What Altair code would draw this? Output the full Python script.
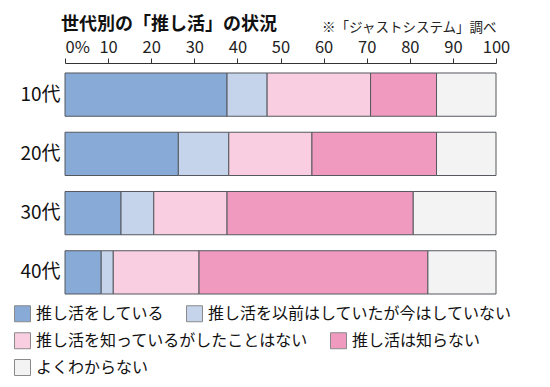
import altair as alt
import pandas as pd

ages = ["10代", "20代", "30代", "40代"]
categories = [
    "推し活をしている",
    "推し活を以前はしていたが今はしていない",
    "推し活を知っているがしたことはない",
    "推し活は知らない",
    "よくわからない",
]
colors = ["#88AAD6", "#C5D4EB", "#F8CEE0", "#F09ABF", "#F3F3F3"]
v_doing = [37.6, 26.3, 13.0, 8.4]
v_before = [9.3, 11.7, 7.6, 2.8]
v_know = [24.0, 19.3, 17.0, 19.9]
v_unknown = [15.3, 28.9, 43.2, 53.1]
v_unsure = [13.8, 13.8, 19.2, 15.8]
ticks = [0, 10, 20, 30, 40, 50, 60, 70, 80, 90, 100]

series = [v_doing, v_before, v_know, v_unknown, v_unsure]
rows = []
for ci, (cat, vals) in enumerate(zip(categories, series)):
    for age, v in zip(ages, vals):
        rows.append({"age": age, "cat": cat, "order": ci, "value": v})
df = pd.DataFrame(rows)

FONT = "Noto Sans CJK JP"

bars = alt.Chart(df).mark_bar(stroke="#55585f", strokeWidth=1).encode(
    x=alt.X(
        "value:Q",
        stack="zero",
        scale=alt.Scale(domain=[0, 100], nice=False),
        axis=alt.Axis(
            orient="top",
            values=ticks,
            labelExpr="datum.value == 0 ? '0%' : datum.label",
            labelAlign=alt.expr("datum.value == 0 ? 'left' : 'center'"),
            labelFontSize=16.5,
            labelColor="#222",
            labelPadding=3,
            tickSize=5,
            tickColor="#333",
            domainColor="#333",
            grid=False,
            offset=2,
            title="※「ジャストシステム」調べ",
            titleFontSize=13.5,
            titleFontWeight="normal",
            titleAnchor="end",
            titleAlign="right",
            titleColor="#222",
            titlePadding=5,
        ),
    ),
    y=alt.Y(
        "age:N",
        sort=ages,
        scale=alt.Scale(paddingInner=0.27, paddingOuter=0.135),
        axis=alt.Axis(
            title=None,
            domain=False,
            ticks=False,
            labelFontSize=19,
            labelColor="#111",
            labelPadding=5,
            labelFontWeight="normal",
        ),
    ),
    color=alt.Color(
        "cat:N",
        scale=alt.Scale(domain=categories, range=colors),
        legend=None,
    ),
    order=alt.Order("order:Q"),
)


def legend_row(idx, ly):
    cats = [categories[i] for i in idx]
    cols = [colors[i] for i in idx]
    sub = pd.DataFrame({"cat" + str(ly): cats})
    return alt.Chart(sub).mark_square(opacity=0).encode(
        color=alt.Color(
            "cat" + str(ly) + ":N",
            scale=alt.Scale(domain=cats, range=cols),
            legend=alt.Legend(
                title=None,
                orient="none",
                legendX=-51,
                legendY=ly,
                direction="horizontal",
                symbolType="square",
                symbolSize=256,
                symbolStrokeColor="#8a8a8a",
                symbolStrokeWidth=1,
                symbolOpacity=1,
                labelFontSize=16,
                labelOffset=5,
                labelLimit=0,
                labelColor="#111",
                columnPadding=19,
            ),
        ),
    )


chart = alt.layer(
    bars,
    legend_row([0, 1], 240),
    legend_row([2, 3], 267),
    legend_row([4], 294),
).resolve_scale(color="independent").resolve_legend(color="independent").properties(
    width=431,
    height=237,
    autosize=alt.AutoSizeParams(type="none"),
    padding={"left": 57, "top": 57, "right": 46, "bottom": 77},
    title=alt.TitleParams(
        "世代別の「推し活」の状況",
        anchor="start",
        frame="group",
        fontSize=18,
        fontWeight="bold",
        color="#111",
        dx=-4,
        offset=-14,
    ),
).configure(font=FONT).configure_view(stroke=None)

chart.save("out.html", embed_options={"renderer": "svg", "actions": False})
